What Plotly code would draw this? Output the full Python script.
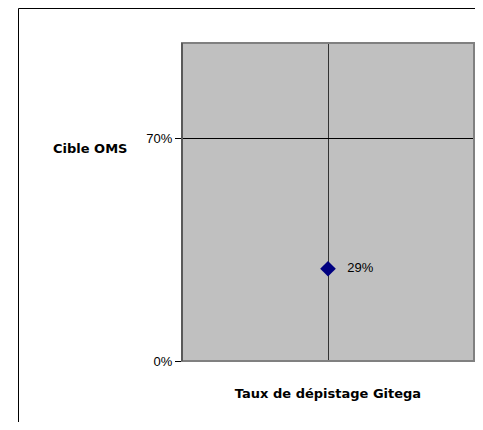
import plotly.graph_objects as go

categories = ["Taux de dépistage Gitega"]
values = [0.29]
value_labels = ["29%"]
target_value = 0.70
target_label = "Cible OMS"
y_ticks = [0, 0.70]
y_tick_labels = ["0%", "70%"]

# figure pixel geometry (page body adds 8px offset)
L, R, T, B = 174, 1, 35, 61
W, H = 467, 414
PW, PH = W - L - R, H - T - B

def px(X):
    return (X - L) / PW

def py(Y):
    return (H - B - Y) / PH

fig = go.Figure()
fig.add_trace(go.Scatter(
    x=[1], y=values, mode="markers+text",
    marker=dict(symbol="diamond", size=12, color="#000080"),
    text=value_labels, texttemplate="   %{text}", textposition="middle right",
    textfont=dict(family="Liberation Sans, Arial", size=13, color="black"),
    showlegend=False, hoverinfo="skip", cliponaxis=False,
))

fig.update_layout(
    width=W, height=H,
    margin=dict(l=L, r=R, t=T, b=B),
    paper_bgcolor="white", plot_bgcolor="#C0C0C0",
    font=dict(family="Liberation Sans, Arial", size=13, color="black"),
    xaxis=dict(range=[0, 2], tickvals=[1], showticklabels=False, ticks="",
               showgrid=True, gridcolor="#333333", gridwidth=1, zeroline=False,
               showline=False, fixedrange=True,
               title=dict(text="<b>" + categories[0] + "</b>",
                          font=dict(size=13, family="DejaVu Sans"), standoff=27)),
    yaxis=dict(range=[0, 1], tickvals=y_ticks, ticktext=y_tick_labels,
               ticks="outside", ticklen=6, tickcolor="black",
               showgrid=True, gridcolor="black", gridwidth=1, zeroline=False,
               showline=True, linecolor="black", linewidth=1, fixedrange=True),
    shapes=[
        dict(type="rect", xref="paper", yref="paper", x0=0, x1=1, y0=0, y1=1,
             line=dict(color="#808080", width=2), layer="above"),
        dict(type="line", xref="paper", yref="paper", x0=0, x1=0, y0=0, y1=1,
             line=dict(color="#333333", width=1), layer="above"),
        dict(type="rect", xref="paper", yref="paper",
             x0=px(10.5), x1=1.3, y0=-0.5, y1=py(0.5),
             line=dict(color="black", width=1)),
    ],
    annotations=[
        dict(text="<b>" + target_label + "</b>", xref="paper", yref="paper",
             x=px(82), y=py(140), xanchor="center", yanchor="middle",
             showarrow=False,
             font=dict(family="DejaVu Sans", size=13, color="black")),
    ],
)
fig.write_html("out.html")
